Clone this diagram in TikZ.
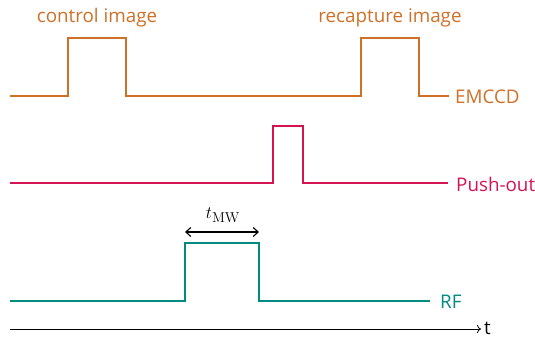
\documentclass[tikz,border=0pt]{standalone}
\usepackage[no-math]{fontspec}
\setmainfont{Open Sans}
\usetikzlibrary{arrows.meta}
\definecolor{cOrange}{RGB}{207,112,38}
\definecolor{cCrimson}{RGB}{212,20,82}
\definecolor{cTeal}{RGB}{0,138,128}
\begin{document}
\begin{tikzpicture}[x=1pt,y=-1pt,
  wave/.style={line width=1.5pt},
  lbl/.style={font=\fontsize{18.8}{21}\selectfont, inner sep=0pt}]
\useasboundingbox (0,0) rectangle (535,337);
% EMCCD
\draw[wave,cOrange] (10,96) -- (68,96) -- (68,38) -- (126,38) -- (126,96) -- (361,96) -- (361,38) -- (419,38) -- (419,96) -- (449,96) coordinate (eEnd);
\node[lbl,cOrange,anchor=west] (emccd) at (455,97) {EMCCD};
\node[lbl,cOrange] (ctrl) at (97,18) {control image};
\node[lbl,cOrange] (recap) at (390,18) {recapture image};
% Push-out
\draw[wave,cCrimson] (10,183) -- (273,183) -- (273,126) -- (303,126) -- (303,183) -- (448,183) coordinate (pEnd);
\node[lbl,cCrimson,anchor=west] (push) at (456,184) {Push-out};
% RF
\draw[wave,cTeal] (10,301) -- (185,301) coordinate (rUp) -- (185,243) -- (259,243) -- (259,301) coordinate (rDown) -- (430,301) coordinate (rEnd);
\node[lbl,cTeal,anchor=west] (rf) at (440,302) {RF};
% t_MW
\coordinate (mwL) at (185,232);
\coordinate (mwR) at (259,232);
\draw[line width=1.1pt,{Straight Barb[length=5pt,width=9pt]}-{Straight Barb[length=5pt,width=9pt]}] (mwL) -- (mwR);
\node[font=\fontsize{19}{21}\selectfont] (tmw) at (223,215) {$t_{\mathrm{MW}}$};
% time axis
\coordinate (ax0) at (10,329);
\node[lbl,anchor=base west,text depth=0pt] (tlab) at (484,334) {t};
\draw[line width=0.8pt,-{To[length=4pt,width=8pt]}] (ax0) -- (481,329);
\end{tikzpicture}
\end{document}
